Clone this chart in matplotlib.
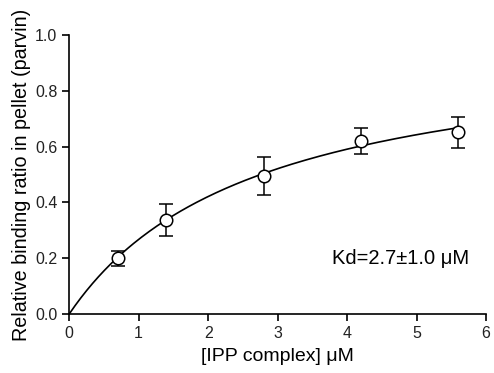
import matplotlib
matplotlib.use("Agg")
import matplotlib.pyplot as plt
import numpy as np

plt.rcParams['font.family'] = ['Liberation Sans', 'DejaVu Sans']

# data
conc = [0.7, 1.4, 2.8, 4.2, 5.6]
ratio = [0.200, 0.337, 0.496, 0.620, 0.651]
err = [0.026, 0.058, 0.068, 0.046, 0.057]

# one-site binding fit
kd = 2.7
bmax = 0.99

fig = plt.figure(figsize=(4.94, 3.73), dpi=100)
ax = fig.add_axes([0.14, 0.158, 0.844, 0.748])

xfit = np.linspace(0, conc[-1], 200)
ax.plot(xfit, bmax * xfit / (kd + xfit), color='black', lw=1.2, zorder=2)

ax.errorbar(conc, ratio, yerr=err, fmt='o', mfc='white', mec='black',
            ms=9, mew=1.1, ecolor='black', elinewidth=1.1, capsize=5,
            capthick=1.1, zorder=3)

ax.set_xlim(0, 6)
ax.set_ylim(0, 1.0)
ax.set_xticks(range(7))
ax.set_yticks([0.0, 0.2, 0.4, 0.6, 0.8, 1.0])
ax.set_yticklabels(["0.0", "0.2", "0.4", "0.6", "0.8", "1.0"])
ax.spines['top'].set_visible(False)
ax.spines['right'].set_visible(False)
for s in ['left', 'bottom']:
    ax.spines[s].set_linewidth(1.2)
ax.tick_params(direction='out', length=5, width=1.2, labelsize=11.5,
               labelcolor='#222222')

ax.set_xlabel("[IPP complex] \u03bcM", fontsize=14, labelpad=5)
ax.set_ylabel("Relative binding ratio in pellet (parvin)", fontsize=14.2,
              labelpad=3)

ax.text(3.78, 0.2, "Kd=2.7\u00b11.0 \u03bcM", fontsize=14.5, va='center')

fig.savefig("out.png", dpi=100)
